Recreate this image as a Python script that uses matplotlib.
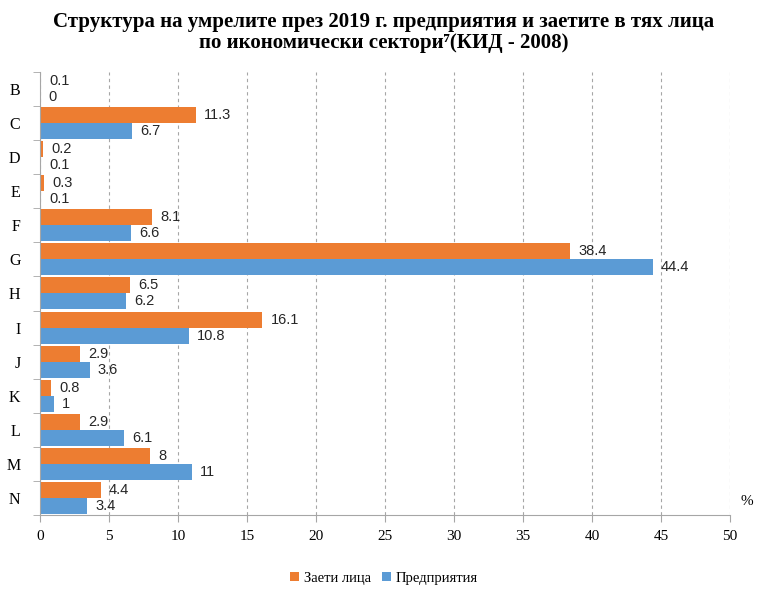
import numpy as np
import matplotlib
matplotlib.use("Agg")
import matplotlib.pyplot as plt
from matplotlib.ticker import MultipleLocator, FixedLocator

# sectors, top to bottom
sectors = ["B", "C", "D", "E", "F", "G", "H", "I", "J", "K", "L", "M", "N"]
employed = [0.1, 11.3, 0.2, 0.3, 8.1, 38.4, 6.5, 16.1, 2.9, 0.8, 2.9, 8, 4.4]
enterprises = [0, 6.7, 0.1, 0.1, 6.6, 44.4, 6.2, 10.8, 3.6, 1, 6.1, 11, 3.4]
emp_labels = ["0.1", "11.3", "0.2", "0.3", "8.1", "38.4", "6.5", "16.1", "2.9", "0.8", "2.9", "8", "4.4"]
ent_labels = ["0", "6.7", "0.1", "0.1", "6.6", "44.4", "6.2", "10.8", "3.6", "1", "6.1", "11", "3.4"]

orange = "#ED7D31"
blue = "#5B9BD5"
serif = ["Liberation Serif", "DejaVu Serif"]
sans = ["Liberation Sans", "DejaVu Sans"]

fig = plt.figure(figsize=(7.68, 5.95), dpi=100)
ax = fig.add_axes([0.052, 0.1345, 0.8985, 0.7445])

y = np.arange(len(sectors))
h = 0.47
b1 = ax.barh(y - h / 2, employed, height=h, color=orange, label="Заети лица")
b2 = ax.barh(y + h / 2, enterprises, height=h, color=blue, label="Предприятия")

for bars, labs in ((b1, emp_labels), (b2, ent_labels)):
    for r, t in zip(bars, labs):
        ax.annotate(t, (r.get_width(), r.get_y() + r.get_height() / 2),
                    xytext=(6, 0), textcoords="offset points",
                    va="center", ha="left", fontsize=10.5, family=sans, color="#262626")

ax.set_ylim(len(sectors) - 0.5, -0.5)
ax.set_xlim(0, 50)
ax.xaxis.set_major_locator(MultipleLocator(5))
ax.set_yticks(y)
ax.set_yticklabels(sectors, family=serif, fontsize=11.5)
ax.yaxis.set_minor_locator(FixedLocator(np.arange(-0.5, len(sectors), 1)))
ax.tick_params(axis="y", which="major", length=0, pad=14)
ax.tick_params(axis="y", which="minor", length=5, color="#a6a6a6")
ax.tick_params(axis="x", length=5, color="#a6a6a6", pad=6)
for lab in ax.get_xticklabels():
    lab.set_family(serif)
    lab.set_fontsize(11)

ax.grid(axis="x", linestyle=(0, (3, 3)), color="#a6a6a6", linewidth=0.8)
ax.set_axisbelow(True)
for s in ("top", "right"):
    ax.spines[s].set_visible(False)
for s in ("left", "bottom"):
    ax.spines[s].set_color("#a6a6a6")

ax.text(1.015, 0.03, "%", transform=ax.transAxes, family=serif, fontsize=11, ha="left", va="center")

fig.text(0.5, 0.98, "Структура на умрелите през 2019 г. предприятия и заетите в тях лица\nпо икономически сектори⁷(КИД - 2008)",
         ha="center", va="top", family=serif, fontsize=15, fontweight="bold", linespacing=1.05)

leg = fig.legend(handles=[b1, b2], loc="center", bbox_to_anchor=(0.5, 0.028), ncol=2, frameon=False,
                 prop={"family": serif, "size": 10.5}, handlelength=0.6, handleheight=0.6,
                 handletextpad=0.3, columnspacing=0.8)

fig.savefig("out.png", dpi=100)
